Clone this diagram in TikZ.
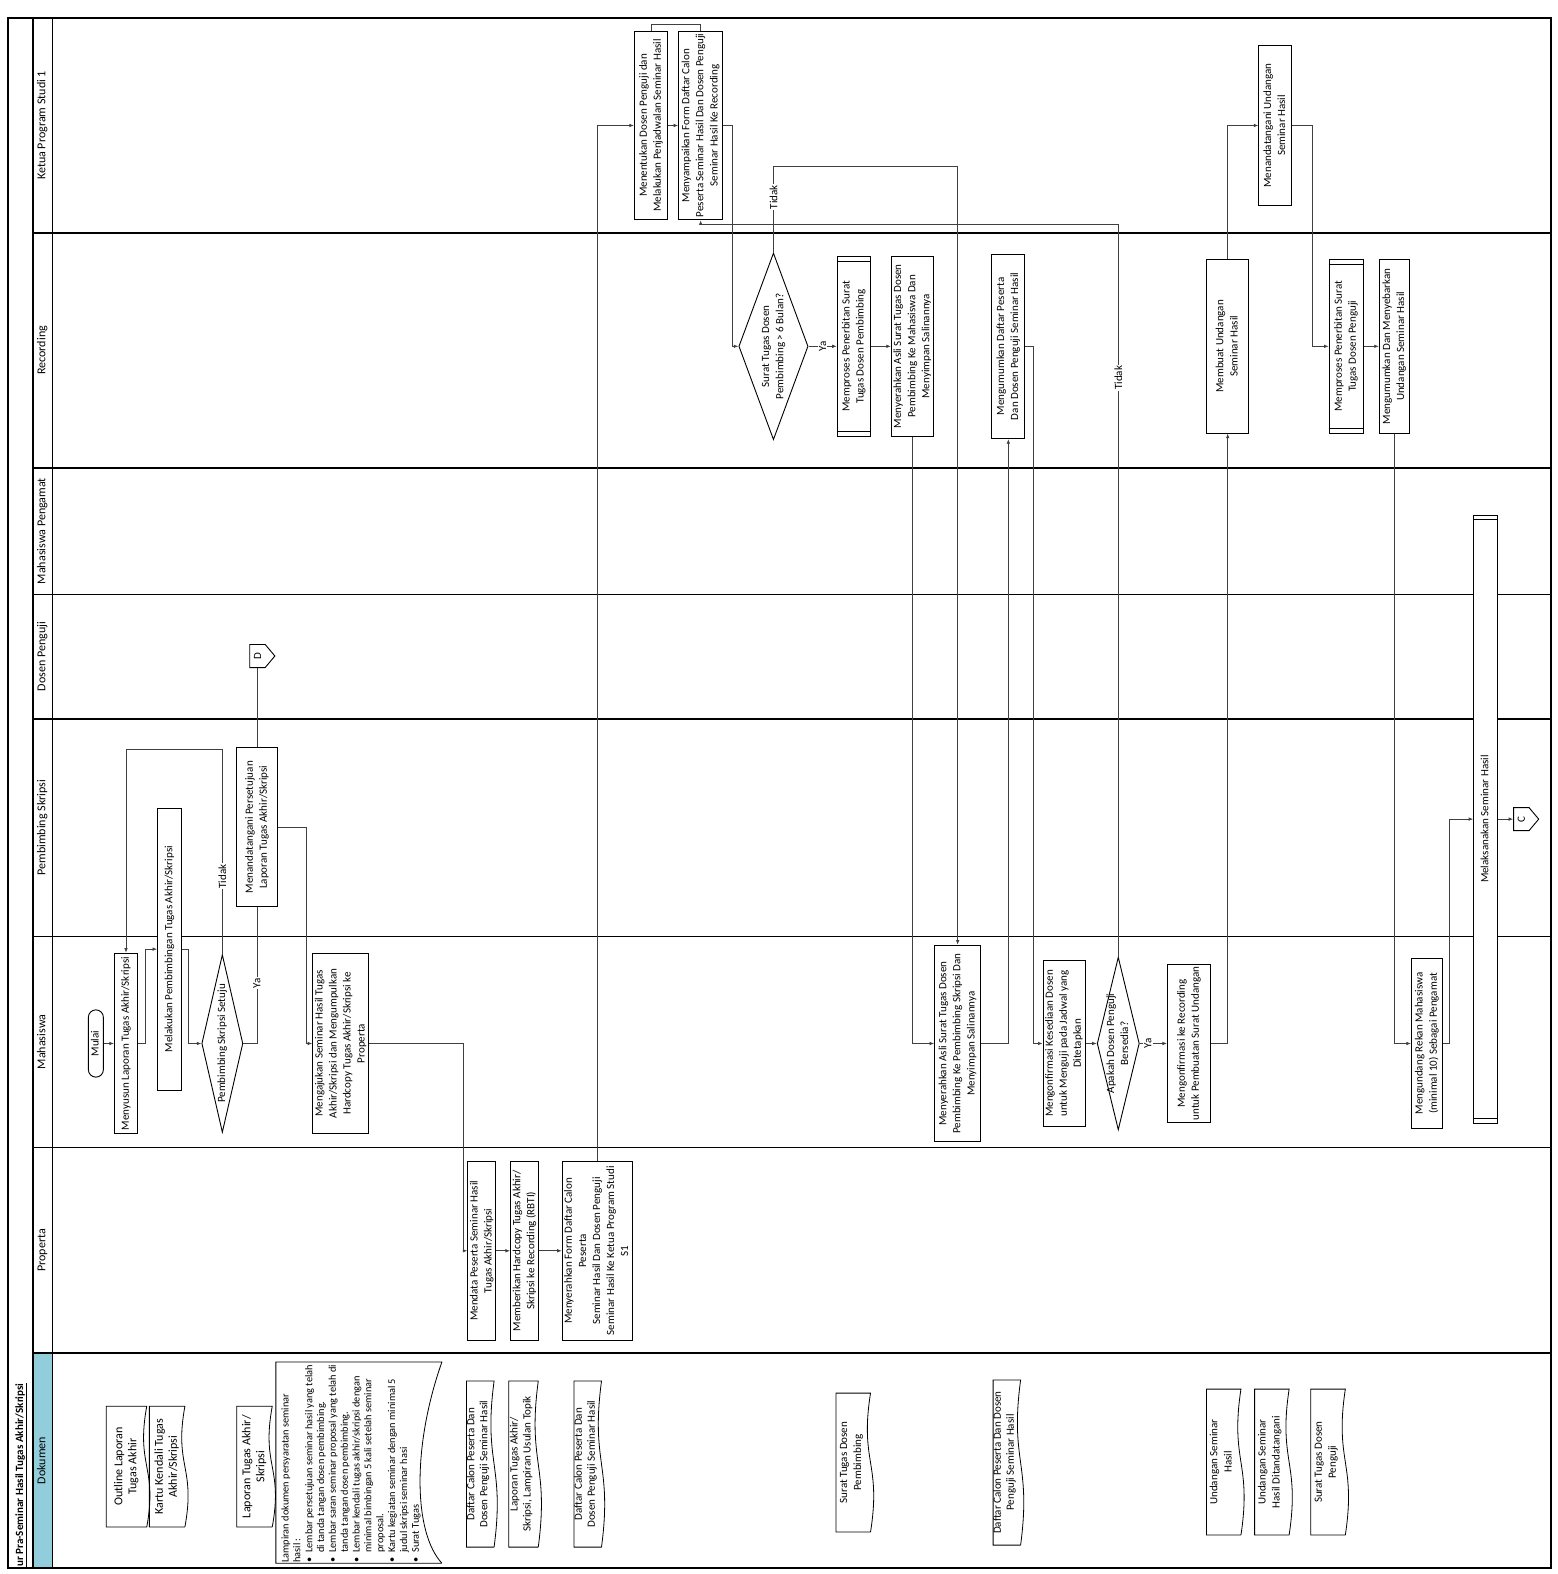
\documentclass[tikz,border=0pt]{standalone}
\usepackage{fontspec}
\setmainfont{Carlito}
\usetikzlibrary{arrows.meta,calc,positioning,shapes.geometric,shapes.symbols}
\definecolor{laneblue}{RGB}{146,205,220}
\definecolor{flowgray}{RGB}{64,64,64}
\newcommand{\vtext}[1]{\rotatebox{90}{\begin{tabular}{@{}c@{}}#1\end{tabular}}}

\begin{document}
\begin{tikzpicture}[x=1pt,y=-1pt,font=\fontsize{11}{14}\selectfont,
  procbox/.style={draw,fill=white,line width=0.9pt,inner sep=0pt},
  subproc/.style={procbox},
  decision/.style={draw,fill=white,shape=diamond,line width=0.9pt,inner sep=0pt},
  terminal/.style={draw,fill=white,rounded corners=7.5pt,line width=0.9pt,inner sep=0pt},
  offpage/.style={draw,fill=white,shape=signal,signal to=east,signal from=nowhere,signal pointer angle=100,line width=0.9pt,inner sep=0pt,minimum width=25pt,minimum height=23pt},
  docnode/.style={inner sep=0pt},
  smalldoc/.style={docnode,font=\fontsize{11}{13}\selectfont},
  docline/.style={line width=0.8pt},
  lanelabel/.style={inner sep=0pt,font=\fontsize{12}{14}\selectfont},
  laneline/.style={line width=1.5pt},
  flow/.style={draw=flowgray,line width=0.7pt,-{Latex[length=4.5pt,width=3.5pt]}},
  link/.style={draw=flowgray,line width=0.7pt},
  lbl/.style={fill=white,inner sep=1pt}]
\useasboundingbox (0,0) rectangle (1552,1568);

% lanes
\fill[laneblue] (33,1348) rectangle (52,1562);
\draw[line width=1.2pt] (8,18) rectangle (1545,1562);
\draw[line width=1.4pt] (33,18) -- (33,1562);
\draw[line width=1.2pt] (52,18) -- (52,1562);
\foreach \ly in {232,466,592,716,933,1143,1348}
  \draw[laneline] (33,\ly) -- (1545,\ly);

\node[inner sep=0pt,anchor=south,font=\bfseries\fontsize{11}{13}\selectfont] (judul) at (21,1561) {\rotatebox{90}{\underline{ur Pra-Seminar Hasil Tugas Akhir/Skripsi}}};
\node[lanelabel] (lblketua) at (42.5,125) {\vtext{Ketua Program Studi 1}};
\node[lanelabel] (lblrecording) at (42.5,349) {\vtext{Recording}};
\node[lanelabel] (lblpengamat) at (42.5,529) {\vtext{Mahasiswa Pengamat}};
\node[lanelabel] (lblpenguji) at (42.5,654) {\vtext{Dosen Penguji}};
\node[lanelabel] (lblpembimbing) at (42.5,824.5) {\vtext{Pembimbing Skripsi}};
\node[lanelabel] (lblmahasiswa) at (42.5,1038) {\vtext{Mahasiswa}};
\node[lanelabel] (lblproperta) at (42.5,1245.5) {\vtext{Properta}};
\node[lanelabel] (lbldokumen) at (42.5,1455) {\vtext{Dokumen}};

% Mahasiswa
\node[terminal,minimum width=15pt,minimum height=67pt] (mulai) at (95.5,1039.5) {\vtext{Mulai}};
\node[procbox,minimum width=23pt,minimum height=180pt] (menyusun) at (125.5,1039.5) {\vtext{Menyusun Laporan Tugas Akhir/Skripsi}};
\node[procbox,minimum width=24pt,minimum height=281pt] (melakukan) at (169,945.5) {\vtext{Melakukan Pembimbingan Tugas Akhir/Skripsi}};
\node[decision,minimum width=41pt,minimum height=177pt,label=center:{\vtext{Pembimbing Skripsi Setuju}}] (setuju) at (221.5,1039.5) {};
\node[procbox,minimum width=55pt,minimum height=180pt] (mengajukan) at (339.5,1039.5) {\vtext{Mengajukan Seminar Hasil Tugas\\Akhir/Skripsi dan Mengumpulkan\\Hardcopy Tugas Akhir/Skripsi ke\\Properta}};
\node[procbox,minimum width=46pt,minimum height=196pt] (serahasli) at (954,1039.5) {\vtext{Menyerahkan Asli Surat Tugas Dosen\\Pembimbing Ke Pembimbing Skripsi Dan\\Menyimpan Salinannya}};
\node[procbox,minimum width=42pt,minimum height=165pt] (konfirmasi) at (1060,1039.5) {\vtext{Mengonfirmasi Kesediaan Dosen\\untuk Menguji pada Jadwal yang\\Ditetapkan}};
\node[decision,minimum width=42pt,minimum height=172pt,label=center:{\vtext{Apakah Dosen Penguji\\Bersedia?}}] (bersedia) at (1114,1039.5) {};
\node[procbox,minimum width=43pt,minimum height=158pt] (konfrec) at (1184.5,1039.5) {\vtext{Mengonfirmasi ke Recording\\untuk Pembuatan Surat Undangan}};
\node[procbox,minimum width=31pt,minimum height=170pt] (mengundang) at (1421.5,1039.5) {\vtext{Mengundang Rekan Mahasiswa\\(minimal 10) Sebagai Pengamat}};

% Pembimbing Skripsi, Dosen Penguji
\node[procbox,minimum width=40pt,minimum height=158pt] (ttdsetuju) at (256,824) {\vtext{Menandatangani Persetujuan\\Laporan Tugas Akhir/Skripsi}};
\node[subproc,minimum width=24pt,minimum height=606pt] (melaksanakan) at (1480,816) {\vtext{Melaksanakan Seminar Hasil}};
\node[offpage] (pD) at (256.5,653.5) {\rotatebox{90}{D}};
\node[offpage] (pC) at (1515.5,816) {\rotatebox{90}{C}};

% Ketua Program Studi
\node[procbox,minimum width=33pt,minimum height=188pt] (tentukan) at (648.5,125) {\vtext{Menentukan Dosen Penguji dan\\Melakukan Penjadwalan Seminar Hasil}};
\node[procbox,minimum width=44pt,minimum height=188pt] (sampaikan) at (698,125) {\vtext{Menyampaikan Form Daftar Calon\\Peserta Seminar Hasil Dan Dosen Penguji\\Seminar Hasil Ke Recording}};
\node[procbox,minimum width=33pt,minimum height=160pt] (ttdundangan) at (1270.5,125) {\vtext{Menandatangani Undangan\\Seminar Hasil}};

% Recording
\node[decision,minimum width=69pt,minimum height=186pt,label=center:{\vtext{Surat Tugas Dosen\\Pembimbing > 6 Bulan?}}] (bulan) at (770.5,345) {};
\node[subproc,minimum width=33pt,minimum height=179pt] (proses1) at (850.5,345) {\vtext{Memproses Penerbitan Surat\\Tugas Dosen Pembimbing}};
\node[procbox,minimum width=42pt,minimum height=179pt] (serahrec) at (909,345) {\vtext{Menyerahkan Asli Surat Tugas Dosen\\Pembimbing Ke Mahasiswa Dan\\Menyimpan Salinannya}};
\node[procbox,minimum width=33pt,minimum height=184pt] (umumdaftar) at (1004.5,345) {\vtext{Mengumumkan Daftar Peserta\\Dan Dosen Penguji Seminar Hasil}};
\node[procbox,minimum width=42pt,minimum height=173pt] (buatundangan) at (1223,345) {\vtext{Membuat Undangan\\Seminar Hasil}};
\node[subproc,minimum width=34pt,minimum height=173pt] (proses2) at (1341,345) {\vtext{Memproses Penerbitan Surat\\Tugas Dosen Penguji}};
\node[procbox,minimum width=30pt,minimum height=173pt] (sebarkan) at (1389,345) {\vtext{Mengumumkan Dan Menyebarkan\\Undangan Seminar Hasil}};

% Properta
\node[procbox,minimum width=24pt,minimum height=178pt] (mendata) at (480,1246) {\vtext{Mendata Peserta Seminar Hasil\\Tugas Akhir/Skripsi}};
\node[procbox,minimum width=25pt,minimum height=178pt] (memberikan) at (522.5,1246) {\vtext{Memberikan Hardcopy Tugas Akhir/\\Skripsi ke Recording (RBTI)}};
\node[procbox,minimum width=70pt,minimum height=178pt] (serahform) at (595,1246) {\vtext{Menyerahkan Form Daftar Calon\\Peserta\\Seminar Hasil Dan Dosen Penguji\\Seminar Hasil Ke Ketua Program Studi\\S1}};

\foreach \p in {proses1,proses2,melaksanakan}{
  \draw[line width=0.9pt] ([yshift=-5pt]\p.north west) -- ([yshift=-5pt]\p.north east);
  \draw[line width=0.9pt] ([yshift=5pt]\p.south west) -- ([yshift=5pt]\p.south east);
}

% Dokumen
\node[docnode,minimum width=40pt,minimum height=120pt,font=\fontsize{12}{14}\selectfont] (docoutline) at (126,1461) {\vtext{Outline Laporan\\Tugas Akhir}};
\node[docnode,minimum width=35pt,minimum height=120pt,font=\fontsize{12}{14}\selectfont] (dockartu) at (166.5,1461) {\vtext{Kartu Kendali Tugas\\Akhir/Skripsi}};
\node[docnode,minimum width=35pt,minimum height=120pt,font=\fontsize{12}{14}\selectfont] (doclaporan) at (253.5,1461) {\vtext{Laporan Tugas Akhir/\\Skripsi}};
\node[docnode,minimum width=165pt,minimum height=200pt] (doclampiran) at (357.5,1457) {};
\node[smalldoc,minimum width=27pt,minimum height=165pt] (docdaftara) at (478.5,1458.5) {};
\node[smalldoc,minimum width=29pt,minimum height=165pt] (doclaplamp) at (521.5,1458.5) {};
\node[smalldoc,minimum width=27pt,minimum height=165pt] (docdaftarb) at (585.5,1458.5) {};
\node[smalldoc,minimum width=34pt,minimum height=138pt] (docsurat) at (850,1457) {};
\node[smalldoc,minimum width=27pt,minimum height=164pt] (docdaftarc) at (1003,1457) {};
\node[docnode,minimum width=34pt,minimum height=145pt] (docundangan) at (1219,1456.5) {};
\node[docnode,minimum width=34pt,minimum height=145pt] (docundttd) at (1267,1456.5) {};
\node[docnode,minimum width=34pt,minimum height=145pt] (docpenguji) at (1323,1456.5) {};
\node[smalldoc] at ([xshift=-2pt]docdaftara.center) {\vtext{Daftar Calon Peserta Dan\\Dosen Penguji Seminar Hasil}};
\node[smalldoc] at ([xshift=-2pt]doclaplamp.center) {\vtext{Laporan Tugas Akhir/\\Skripsi, Lampiran Usulan Topik}};
\node[smalldoc] at ([xshift=-2pt]docdaftarb.center) {\vtext{Daftar Calon Peserta Dan\\Dosen Penguji Seminar Hasil}};
\node[smalldoc,font=\fontsize{11}{14}\selectfont] at ([xshift=-2pt]docsurat.center) {\vtext{Surat Tugas Dosen\\Pembimbing}};
\node[smalldoc] at ([xshift=-2pt]docdaftarc.center) {\vtext{Daftar Calon Peserta Dan Dosen\\Penguji Seminar Hasil}};
\node[docnode] at ([xshift=-2pt]docundangan.center) {\vtext{Undangan Seminar\\Hasil}};
\node[docnode] at ([xshift=-2pt]docundttd.center) {\vtext{Undangan Seminar\\Hasil Ditandatangani}};
\node[docnode] at ([xshift=-2pt]docpenguji.center) {\vtext{Surat Tugas Dosen\\Penguji}};
\foreach \d in {docoutline,dockartu,doclaporan,docdaftara,doclaplamp,docdaftarb,docsurat,docdaftarc,docundangan,docundttd,docpenguji}
  \draw[docline] (\d.south east) -- (\d.south west) -- (\d.north west) -- (\d.north east)
    .. controls ($(\d.north east)!0.5!(\d.south east)+(-11,0)$) and ($(\d.north east)!0.5!(\d.south east)+(11,0)$) .. (\d.south east);
\draw[docline] (doclampiran.south east) -- (doclampiran.south west) -- (doclampiran.north west) -- (doclampiran.north east)
  .. controls ($(doclampiran.north east)+(-30,85)$) and ($(doclampiran.south east)+(-28,-30)$) .. (doclampiran.south east);
\node[anchor=south west,inner sep=0pt,font=\fontsize{10.3}{11.8}\selectfont] (lampirantext) at (279,1557) {\rotatebox{90}{\begin{tabular}{@{}l@{\hspace{5pt}}l@{}}
  \multicolumn{2}{@{}l@{}}{Lampiran dokumen persyaratan seminar}\\
  \multicolumn{2}{@{}l@{}}{hasil :}\\
  \textbullet & Lembar persetujuan seminar hasil yang telah\\
   & di tanda tangan dosen pembimbing.\\
  \textbullet & Lembar saran seminar proposal yang telah di\\
   & tanda tangan dosen pembimbing.\\
  \textbullet & Lembar kendali tugas akhir/skripsi dengan\\
   & minimal bimbingan 5 kali setelah seminar\\
   & proposal.\\
  \textbullet & Kartu kegiatan seminar dengan minimal 5\\
   & judul skripsi seminar hasi\\
  \textbullet & Surat Tugas
\end{tabular}}};

% connectors
\draw[flow] (mulai.east) -- (menyusun.west);
\draw[flow] (menyusun.east) -- ++(7,0) |- (melakukan.west);
\draw[flow] (melakukan.east) -- ++(6,0) |- (setuju.west);
\draw[flow] (setuju.north) -- node[lbl,pos=0.38]{\rotatebox{90}{Tidak}} ++(0,-204) -| (menyusun.north);
\draw[link] (setuju.east) -| node[lbl,pos=0.72]{\rotatebox{90}{Ya}} (ttdsetuju.south);
\draw[link] (pD.south) -- (pD.south |- ttdsetuju.north);
\draw[flow] (ttdsetuju.east) -- ++(29,0) |- (mengajukan.west);
\draw[flow] (mengajukan.east) -- ++(94,0) |- (mendata.west);
\draw[flow] (mendata) -- (memberikan);
\draw[flow] (memberikan) -- (serahform);
\draw[flow] (serahform.north) |- (tentukan.west);
\draw[flow] (tentukan) -- (sampaikan);
\draw[link] (tentukan.north) -- ++(0,-6) -| (sampaikan.north);
\draw[flow] (sampaikan.east) -- ++(9,0) |- (bulan.west);
\draw[flow] (bulan.east) -- node[lbl]{\rotatebox{90}{Ya}} (proses1.west);
\draw[flow] (proses1) -- (serahrec);
\draw[flow] (bulan.north) -- node[lbl,pos=0.64]{\rotatebox{90}{Tidak}} ++(0,-86) -| (serahasli.north);
\draw[flow] (serahrec.south) |- (serahasli.west);
\draw[flow] (serahasli.east) -| (umumdaftar.south);
\draw[flow] (umumdaftar.east) -- ++(8,0) |- (konfirmasi.west);
\draw[flow] (konfirmasi) -- (bersedia);
\draw[flow] (bersedia.east) -- node[lbl,pos=0.3]{\rotatebox{90}{Ya}} (konfrec.west);
\draw[flow] (bersedia.north) -- node[lbl,pos=0.79]{\rotatebox{90}{Tidak}} ++(0,-730) -| (sampaikan.south);
\draw[flow] (konfrec.east) -| (buatundangan.south);
\draw[flow] (buatundangan.north) |- (ttdundangan.west);
\draw[flow] (ttdundangan.east) -- ++(20,0) |- (proses2.west);
\draw[flow] (proses2) -- (sebarkan);
\draw[flow] (sebarkan.south) |- (mengundang.west);
\draw[flow] (mengundang.east) -- ++(6,0) |- (melaksanakan.west);
\draw[flow] (melaksanakan.east |- pC.west) -- (pC.west);
\end{tikzpicture}
\end{document}
